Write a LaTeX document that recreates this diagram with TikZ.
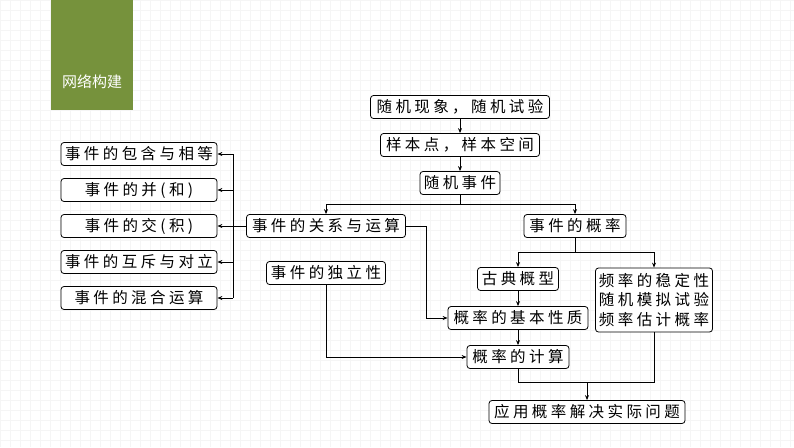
\documentclass[tikz,border=0pt]{standalone}
\usepackage{fontspec}
\newfontfamily\cjk[LetterSpace=22]{Noto Sans CJK SC}
\newfontfamily\cjkt{Noto Sans CJK SC}
\usetikzlibrary{arrows.meta}
\begin{document}
\begin{tikzpicture}[x=1pt,y=-1pt,
  box/.style={draw,thick,rounded corners=3pt,minimum height=23pt,inner sep=1pt,font=\cjk\fontsize{15.5}{17}\selectfont,fill=white},
  arr/.style={thick,-{Stealth[length=5pt,width=4pt]}},
  ln/.style={thick}]
\useasboundingbox (0,0) rectangle (794,447);
\draw[black!4,step=10pt] (0,0) grid (794,447);
\fill[fill={rgb,255:red,118;green,146;blue,60}] (51,0) rectangle (133,110);
\node[text=white,font=\cjkt\fontsize{15}{17}\selectfont] (title) at (92,82) {网络构建};
\node[box,minimum width=179pt] (a) at (460,107) {随机现象，随机试验};
\node[box,minimum width=159pt] (b) at (460,145) {样本点，样本空间};
\node[box,minimum width=80pt] (c) at (460,183) {随机事件};
\node[box,minimum width=159pt] (rel) at (326,226) {事件的关系与运算};
\node[box,minimum width=102pt] (prob) at (575,226) {事件的概率};
\node[box,minimum width=119pt] (ind) at (326,273) {事件的独立性};
\node[box,minimum width=81pt] (gd) at (518,279) {古典概型};
\node[box,minimum width=117pt,minimum height=64pt,align=center,font=\cjk\fontsize{15.5}{19.5}\selectfont] (freq) at (654,300) {频率的稳定性\\随机模拟试验\\频率估计概率};
\node[box,minimum width=140pt] (basic) at (518,318) {概率的基本性质};
\node[box,minimum width=102pt] (calc) at (518,357) {概率的计算};
\node[box,minimum width=196pt] (app) at (587,412) {应用概率解决实际问题};
\foreach \n/\t/\y in {l1/事件的包含与相等/154,l2/事件的并(和)/190,l3/事件的交(积)/226,l4/事件的互斥与对立/262,l5/事件的混合运算/298}
  \node[box,minimum width=156pt] (\n) at (139,\y) {\t};
\coordinate (bus) at (233,226);
\draw[ln] (rel.west) -- (bus);
\draw[ln] (233,154) -- (233,298);
\foreach \n in {l1,l2,l3,l4,l5} \draw[arr] (233,0 |- \n.east) -- (\n.east);
\draw[arr] (a) -- (b);
\draw[arr] (b) -- (c);
\draw[ln] (c.south) -- (460,204);
\draw[arr] (460,204) -| (rel.north);
\draw[arr] (460,204) -| (prob.north);
\draw[ln] (prob.south) -- (575,252);
\draw[arr] (575,252) -| (gd.north);
\draw[arr] (575,252) -| (freq.north);
\draw[arr] (rel.east) -- (426,226) |- (basic.west);
\draw[arr] (ind.south) |- (calc.west);
\draw[arr] (gd) -- (basic);
\draw[arr] (basic) -- (calc);
\draw[ln] (calc.south) |- (587,382);
\draw[ln] (freq.south) |- (587,382);
\draw[arr] (587,382) -- (app.north);
\end{tikzpicture}
\end{document}
